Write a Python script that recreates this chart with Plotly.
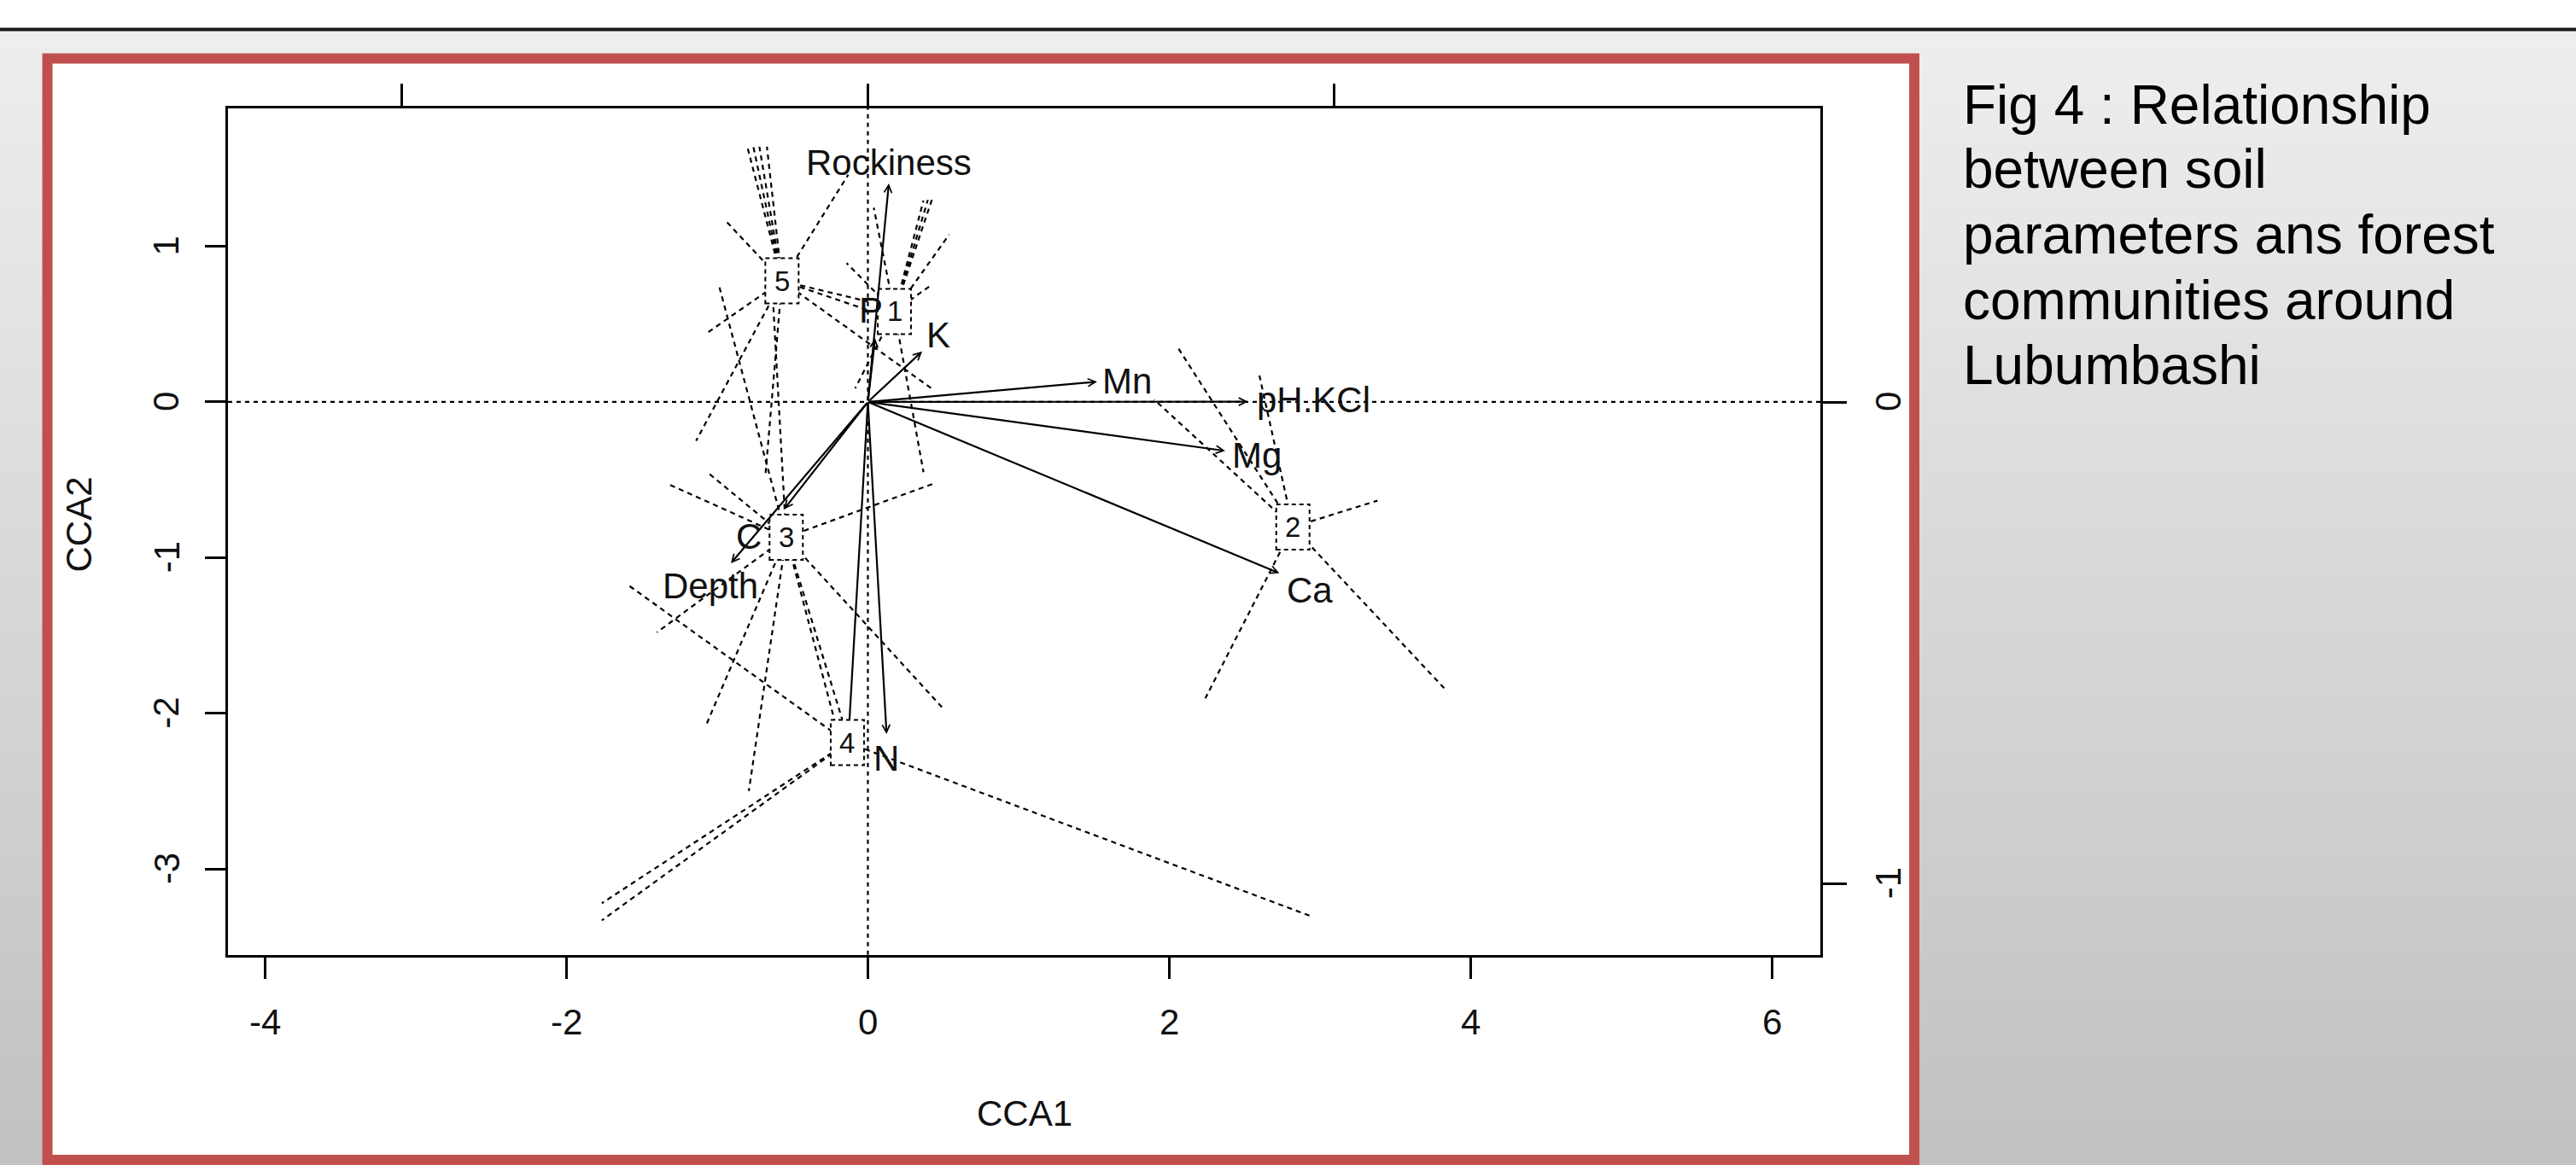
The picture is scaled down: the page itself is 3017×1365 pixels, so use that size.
import plotly.graph_objects as go

W, H = 3017, 1365

# ---------------- data ----------------
group_labels = ["1", "2", "3", "4", "5"]
centroid_x = [0.176, 2.820, -0.542, -0.136, -0.570]
centroid_y = [0.581, -0.803, -0.869, -2.188, 0.778]

g1_x = [0.369, 0.398, 0.426, 0.539, 0.426, -0.141, 0.039, 0.369, -0.084]
g1_y = [1.294, 1.298, 1.303, 1.075, 0.755, 0.892, 1.248, -0.451, 0.088]
g2_x = [2.06, 2.598, 1.90, 3.381, 3.825, 2.239]
g2_y = [0.344, 0.17, 0.015, -0.634, -1.84, -1.904]
g3_x = [-1.33, -1.066, -0.99, -0.63, 0.435, 0.50, -1.075, -0.79, -0.22, -0.17, -1.40]
g3_y = [-0.525, -0.451, 0.755, 0.66, -0.525, -1.97, -2.08, -2.50, -2.05, -2.04, -1.48]
g4_x = [-1.765, -1.765, 2.93, -1.585]
g4_y = [-3.22, -3.33, -3.30, -1.18]
g5_x = [-0.80, -0.76, -0.72, -0.67, -0.13, -0.94, -1.066, -1.14, 0.0, 0.0, 0.435, -0.68]
g5_y = [1.64, 1.64, 1.64, 1.64, 1.46, 1.16, 0.444, -0.25, 0.645, 0.59, 0.078, -0.47]
sites_x = [g1_x, g2_x, g3_x, g4_x, g5_x]
sites_y = [g1_y, g2_y, g3_y, g4_y, g5_y]

env_names = ["Rockiness", "K", "P", "Mn", "pH.KCl", "Mg", "Ca", "N", "C", "Depth"]
env_x = [0.139, 0.360, 0.048, 1.521, 2.522, 2.371, 2.730, 0.124, -0.556, -0.909]
env_y = [1.404, 0.325, 0.410, 0.130, 0.002, -0.314, -1.100, -2.133, -0.689, -1.036]
env_label_x = [0.138, 0.467, 0.020, 1.720, 2.960, 2.582, 2.932, 0.124, -0.792, -1.047]
env_label_y = [1.536, 0.431, 0.587, 0.133, 0.015, -0.342, -1.210, -2.292, -0.862, -1.182]
hidden_arrow_x = [-0.122]
hidden_arrow_y = [-2.04]

x_ticks = [-4, -2, 0, 2, 4, 6]
y_ticks = [-3, -2, -1, 0, 1]
top_ticks = [-1, 0, 1]
right_ticks = [0, -1]

title_lines = ["Fig 4 : Relationship", "between soil", "parameters ans forest",
               "communities around", "Lubumbashi"]

# ---------------- geometry / style ----------------
FONT = "Arial, Liberation Sans, sans-serif"
PL, PR, PT, PB = 267, 2132, 126.8, 1118.8     # plot box in pixels
XR = [-4.246, 6.32]
YR = [-3.552, 1.887]
X2R = [-1.373, 2.044]
Y2R = [-1.148, 0.610]
ux = (PR - PL) / (XR[1] - XR[0])
uy = (PB - PT) / (YR[1] - YR[0])

def px(v):  # horizontal pixel -> paper
    return v / W

def py(v):  # vertical pixel (from top) -> paper
    return 1 - v / H

fig = go.Figure()

# spider lines
for cx, cy, sx, sy in zip(centroid_x, centroid_y, sites_x, sites_y):
    xs, ys = [], []
    for a, b in zip(sx, sy):
        xs += [cx, a, None]
        ys += [cy, b, None]
    fig.add_trace(go.Scatter(x=xs, y=ys, mode="lines",
                             line=dict(color="black", width=2.2, dash="6px,5px"),
                             hoverinfo="skip", showlegend=False))

# unlabeled biplot arrow whose head is hidden under label box 4
fig.add_trace(go.Scatter(x=[0, hidden_arrow_x[0]], y=[0, hidden_arrow_y[0]], mode="lines",
                         line=dict(color="black", width=2.2),
                         hoverinfo="skip", showlegend=False))

# dummy trace for secondary axes
fig.add_trace(go.Scatter(x=[None], y=[None], xaxis="x2", yaxis="y2",
                         hoverinfo="skip", showlegend=False))

shapes = []
# background gradient
top_bg = 36
n = 80
c0, c1 = 238, 193
for i in range(n):
    y0 = top_bg + (H - top_bg) * i / n
    y1 = top_bg + (H - top_bg) * (i + 1) / n + 1
    c = round(c0 + (c1 - c0) * i / (n - 1))
    shapes.append(dict(type="rect", xref="paper", yref="paper", x0=0, x1=1,
                       y0=py(y1), y1=py(y0), line=dict(width=0),
                       fillcolor=f"rgb({c},{c},{c})", layer="below"))
# top white strip and black rule
shapes.append(dict(type="rect", xref="paper", yref="paper", x0=0, x1=1, y0=py(33), y1=1,
                   line=dict(width=0), fillcolor="white", layer="below"))
shapes.append(dict(type="rect", xref="paper", yref="paper", x0=0, x1=1, y0=py(36.5), y1=py(32.5),
                   line=dict(width=0), fillcolor="#1a1a1a", layer="below"))
# red framed white panel
shapes.append(dict(type="rect", xref="paper", yref="paper", x0=px(55.5), x1=px(2242),
                   y0=py(1359), y1=py(68.5), line=dict(color="#C0504D", width=12),
                   fillcolor="white", layer="below"))
# dotted zero lines
shapes.append(dict(type="line", xref="x", yref="y domain", x0=0, x1=0, y0=0, y1=1,
                   line=dict(color="black", width=2.2, dash="5px,5px"), layer="below"))
shapes.append(dict(type="line", xref="x domain", yref="y", x0=0, x1=1, y0=0, y1=0,
                   line=dict(color="black", width=2.2, dash="5px,5px"), layer="below"))
# label boxes
hw = 19.5 / ux
hh = 26.5 / uy
for cx, cy in zip(centroid_x, centroid_y):
    shapes.append(dict(type="rect", xref="x", yref="y", x0=cx - hw, x1=cx + hw,
                       y0=cy - hh, y1=cy + hh, fillcolor="white",
                       line=dict(color="black", width=2, dash="5px,4px"), layer="above"))

ann = []
# biplot arrows
for x, y in zip(env_x, env_y):
    ann.append(dict(x=x, y=y, ax=0, ay=0, xref="x", yref="y", axref="x", ayref="y",
                    text="", showarrow=True, arrowhead=5, arrowsize=0.8, arrowwidth=2.2,
                    arrowcolor="black", standoff=0, startstandoff=0))
for name, x, y in zip(env_names, env_label_x, env_label_y):
    ann.append(dict(x=x, y=y, xref="x", yref="y", text=name, showarrow=False,
                    xanchor="center", yanchor="middle",
                    font=dict(family=FONT, size=42, color="#111")))
# group labels
for g, cx, cy in zip(group_labels, centroid_x, centroid_y):
    ann.append(dict(x=cx, y=cy, xref="x", yref="y", text=g, showarrow=False,
                    xanchor="center", yanchor="middle",
                    font=dict(family=FONT, size=33, color="#111")))
# tick labels (placed through the axes' scales)
for v in x_ticks:
    ann.append(dict(x=v, y=py(1197), xref="x", yref="paper", text=str(v), showarrow=False,
                    xanchor="center", yanchor="middle",
                    font=dict(family=FONT, size=42, color="#111")))
for v in y_ticks:
    ann.append(dict(x=px(195), y=v, xref="paper", yref="y", text=str(v), showarrow=False,
                    xanchor="center", yanchor="middle", textangle=-90,
                    font=dict(family=FONT, size=42, color="#111")))
for v in right_ticks:
    ann.append(dict(x=px(2211), y=v, xref="paper", yref="y2", text=str(v), showarrow=False,
                    xanchor="center", yanchor="middle", textangle=-90,
                    font=dict(family=FONT, size=42, color="#111")))
# axis titles
ann.append(dict(x=px(1200), y=py(1304), xref="paper", yref="paper", text="CCA1",
                showarrow=False, xanchor="center", yanchor="middle",
                font=dict(family=FONT, size=42, color="#111")))
ann.append(dict(x=px(92.5), y=py(615), xref="paper", yref="paper", text="CCA2",
                showarrow=False, xanchor="center", yanchor="middle", textangle=-90,
                font=dict(family=FONT, size=42, color="#111")))
# caption on the right
cap_y = [123.3, 198.4, 275.0, 351.7, 428.3]
for t, yy in zip(title_lines, cap_y):
    ann.append(dict(x=px(2297), y=py(yy), xref="paper", yref="paper", text=t,
                    showarrow=False, xanchor="left", yanchor="middle",
                    font=dict(family=FONT, size=64, color="black")))

common = dict(showgrid=False, zeroline=False, showline=True, linecolor="black",
              linewidth=2.5, ticks="outside", tickcolor="black", tickwidth=2.5,
              showticklabels=False)

fig.update_layout(
    width=W, height=H, margin=dict(l=0, r=0, t=0, b=0),
    paper_bgcolor="white", plot_bgcolor="rgba(0,0,0,0)",
    showlegend=False,
    xaxis=dict(domain=[px(PL), px(PR)], range=XR, tickvals=x_ticks,
               ticklen=25, anchor="y", **common),
    yaxis=dict(domain=[py(PB), py(PT)], range=YR, tickvals=y_ticks,
               ticklen=24, anchor="x", **common),
    xaxis2=dict(overlaying="x", side="top", range=X2R, tickvals=top_ticks,
                ticklen=26, anchor="y", **common),
    yaxis2=dict(overlaying="y", side="right", range=Y2R, tickvals=right_ticks,
                ticklen=28, anchor="x", **common),
    shapes=shapes, annotations=ann,
)

fig.write_html("out.html", config={"displayModeBar": False},
               post_script="document.body.style.margin='0px';document.body.style.overflow='hidden';")
